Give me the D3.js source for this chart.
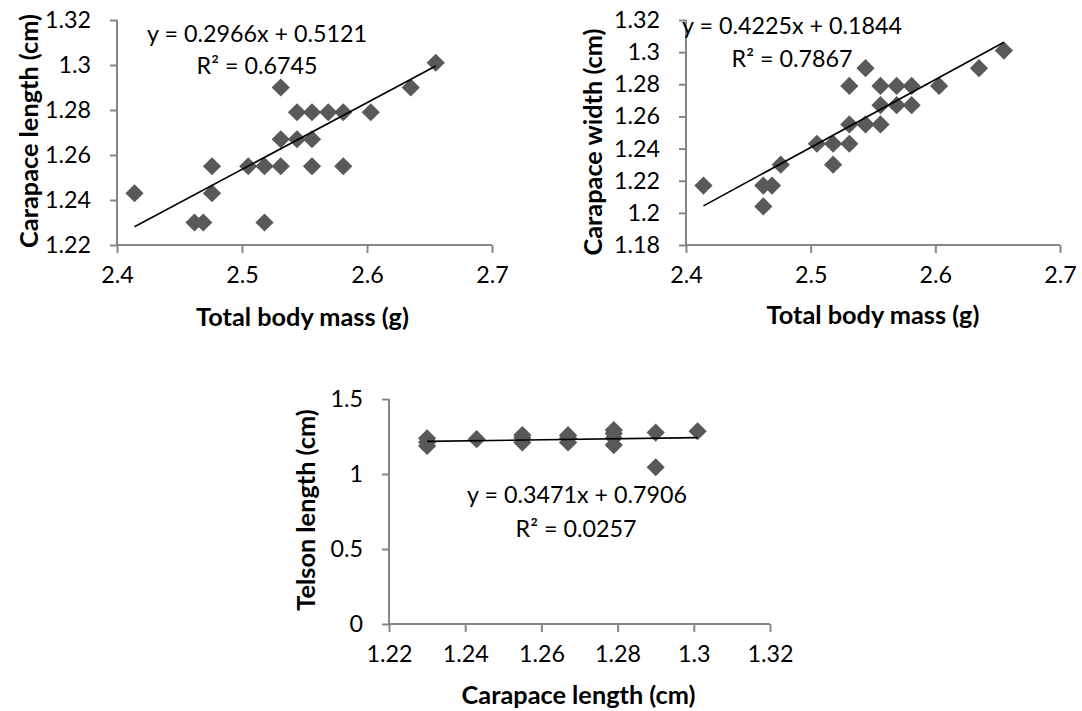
<!DOCTYPE html>
<html><head><meta charset="utf-8">
<script src="https://cdn.jsdelivr.net/npm/d3@7"></script>
<style>
html,body{margin:0;padding:0;background:#fff;}
svg text{font-family:Lato,"Open Sans",sans-serif;fill:#000;}
</style></head>
<body>
<svg id="c" width="1082" height="711"></svg>
<script>
// ---- data ----
const massA   = [2.414,2.462,2.469,2.476,2.476,2.505,2.518,2.518,2.531,2.531,2.531,2.544,2.544,2.556,2.556,2.556,2.569,2.581,2.581,2.603,2.635,2.655];
const lengthA = [1.243,1.230,1.230,1.255,1.243,1.255,1.255,1.230,1.290,1.267,1.255,1.279,1.267,1.279,1.267,1.255,1.279,1.279,1.255,1.279,1.290,1.301];

const massB   = [2.414,2.462,2.462,2.469,2.476,2.505,2.518,2.518,2.531,2.531,2.531,2.544,2.544,2.556,2.556,2.556,2.569,2.569,2.581,2.581,2.603,2.635,2.655];
const widthB  = [1.217,1.217,1.204,1.217,1.230,1.243,1.243,1.230,1.279,1.255,1.243,1.290,1.255,1.279,1.267,1.255,1.279,1.267,1.279,1.267,1.279,1.290,1.301];

const lengthC = [1.230,1.230,1.230,1.243,1.255,1.255,1.255,1.267,1.267,1.267,1.279,1.279,1.279,1.279,1.290,1.290,1.301];
const telsonC = [1.238,1.212,1.187,1.232,1.260,1.241,1.210,1.259,1.240,1.210,1.293,1.270,1.240,1.193,1.276,1.045,1.285];

const trendA = {slope:0.2966, intercept:0.5121, eq:"y = 0.2966x + 0.5121", r2:"R² = 0.6745"};
const trendB = {slope:0.4225, intercept:0.1844, eq:"y = 0.4225x + 0.1844", r2:"R² = 0.7867"};
const trendC = {slope:0.3471, intercept:0.7906, eq:"y = 0.3471x + 0.7906", r2:"R² = 0.0257"};

const ticksMass  = [2.4,2.5,2.6,2.7];
const ticksLenA  = [1.22,1.24,1.26,1.28,1.30,1.32];
const ticksWidB  = [1.18,1.20,1.22,1.24,1.26,1.28,1.30,1.32];
const ticksLenC  = [1.22,1.24,1.26,1.28,1.30,1.32];
const ticksTel   = [0,0.5,1,1.5];

const fmt = d => String(+d.toFixed(2));

// ---- drawing ----
const svg = d3.select("#c");
const axisColor = "#868686";
const markColor = "#595959";

// size fonts so that reference strings span the widths seen in the reference
function fitSize(str, weight, target){
  const t = svg.append("text").attr("font-size",100).attr("font-weight",weight).text(str);
  const w = t.node().getComputedTextLength();
  t.remove();
  return 100*target/w;
}
const FS  = fitSize("y = 0.2966x + 0.5121","normal",220);
const FSB = fitSize("Total body mass (g)","bold",213);

function panel(cfg){
  const g = svg.append("g");
  const x = d3.scaleLinear().domain(cfg.xDomain).range([cfg.x0, cfg.x1]);
  const y = d3.scaleLinear().domain(cfg.yDomain).range([cfg.y0, cfg.y1]);

  const xa = g.append("g").attr("transform",`translate(0,${cfg.y0})`)
    .call(d3.axisBottom(x).tickValues(cfg.xTicks).tickFormat(fmt).tickSize(8).tickPadding(13));
  const ya = g.append("g").attr("transform",`translate(${cfg.x0},0)`)
    .call(d3.axisLeft(y).tickValues(cfg.yTicks).tickFormat(fmt).tickSize(7).tickPadding(19));
  [xa,ya].forEach(a=>{
    a.selectAll("path.domain").attr("stroke",axisColor).attr("stroke-width",2);
    a.selectAll(".tick line").attr("stroke",axisColor).attr("stroke-width",2);
    a.selectAll(".tick text").attr("font-size",FS).attr("fill","#000").style("font-family","Lato");
  });
  xa.select("path.domain").attr("d",`M${cfg.x0},0H${cfg.x1}`);
  ya.select("path.domain").attr("d",`M0,${cfg.y0}V${cfg.y1}`);

  // markers
  const sym = d3.symbol().type(d3.symbolDiamond2).size(2*10.3*10.3);
  g.append("g").selectAll("path").data(cfg.xs.map((v,i)=>[v,cfg.ys[i]])).join("path")
    .attr("d",sym).attr("fill",markColor)
    .attr("transform",d=>`translate(${x(d[0])},${y(d[1])})`);

  // trendline
  const xmin = d3.min(cfg.xs), xmax = d3.max(cfg.xs);
  const t = cfg.trend;
  g.append("line")
    .attr("x1",x(xmin)).attr("y1",y(t.slope*xmin+t.intercept))
    .attr("x2",x(xmax)).attr("y2",y(t.slope*xmax+t.intercept))
    .attr("stroke","#000").attr("stroke-width",1.6);

  // equation labels
  g.append("text").attr("x",cfg.eqPos[0]).attr("y",cfg.eqPos[1]).attr("text-anchor","middle")
    .attr("font-size",FS).text(t.eq);
  g.append("text").attr("x",cfg.r2Pos[0]).attr("y",cfg.r2Pos[1]).attr("text-anchor","middle")
    .attr("font-size",FS).text(t.r2);

  // axis titles
  g.append("text").attr("x",(cfg.x0+cfg.x1)/2 + (cfg.xtDx||0)).attr("y",cfg.xtY).attr("text-anchor","middle")
    .attr("font-size",FSB).attr("font-weight","bold").text(cfg.xTitle);
  g.append("text").attr("transform",`translate(${cfg.ytX},${cfg.ytY}) rotate(-90)`)
    .attr("text-anchor","middle").attr("dominant-baseline","central")
    .attr("font-size",FSB).attr("font-weight","bold").text(cfg.yTitle);
}

panel({xDomain:[2.4,2.7], yDomain:[1.22,1.32], x0:117, x1:492, y0:245, y1:20,
  xTicks:ticksMass, yTicks:ticksLenA, xs:massA, ys:lengthA, trend:trendA,
  eqPos:[257,42], r2Pos:[257,74], xTitle:"Total body mass (g)", xtY:326, xtDx:-2,
  yTitle:"Carapace length (cm)", ytX:28, ytY:131});

panel({xDomain:[2.4,2.7], yDomain:[1.18,1.32], x0:686, x1:1060, y0:245, y1:20,
  xTicks:ticksMass, yTicks:ticksWidB, xs:massB, ys:widthB, trend:trendB,
  eqPos:[792,34], r2Pos:[792,67], xTitle:"Total body mass (g)", xtY:324, xtDx:0,
  yTitle:"Carapace width (cm)", ytX:592, ytY:142});

panel({xDomain:[1.22,1.32], yDomain:[0,1.5], x0:389, x1:770, y0:624, y1:399,
  xTicks:ticksLenC, yTicks:ticksTel, xs:lengthC, ys:telsonC, trend:trendC,
  eqPos:[577,503], r2Pos:[576,537], xTitle:"Carapace length (cm)", xtY:704, xtDx:-1,
  yTitle:"Telson length (cm)", ytX:305, ytY:510});
</script>
</body></html>
